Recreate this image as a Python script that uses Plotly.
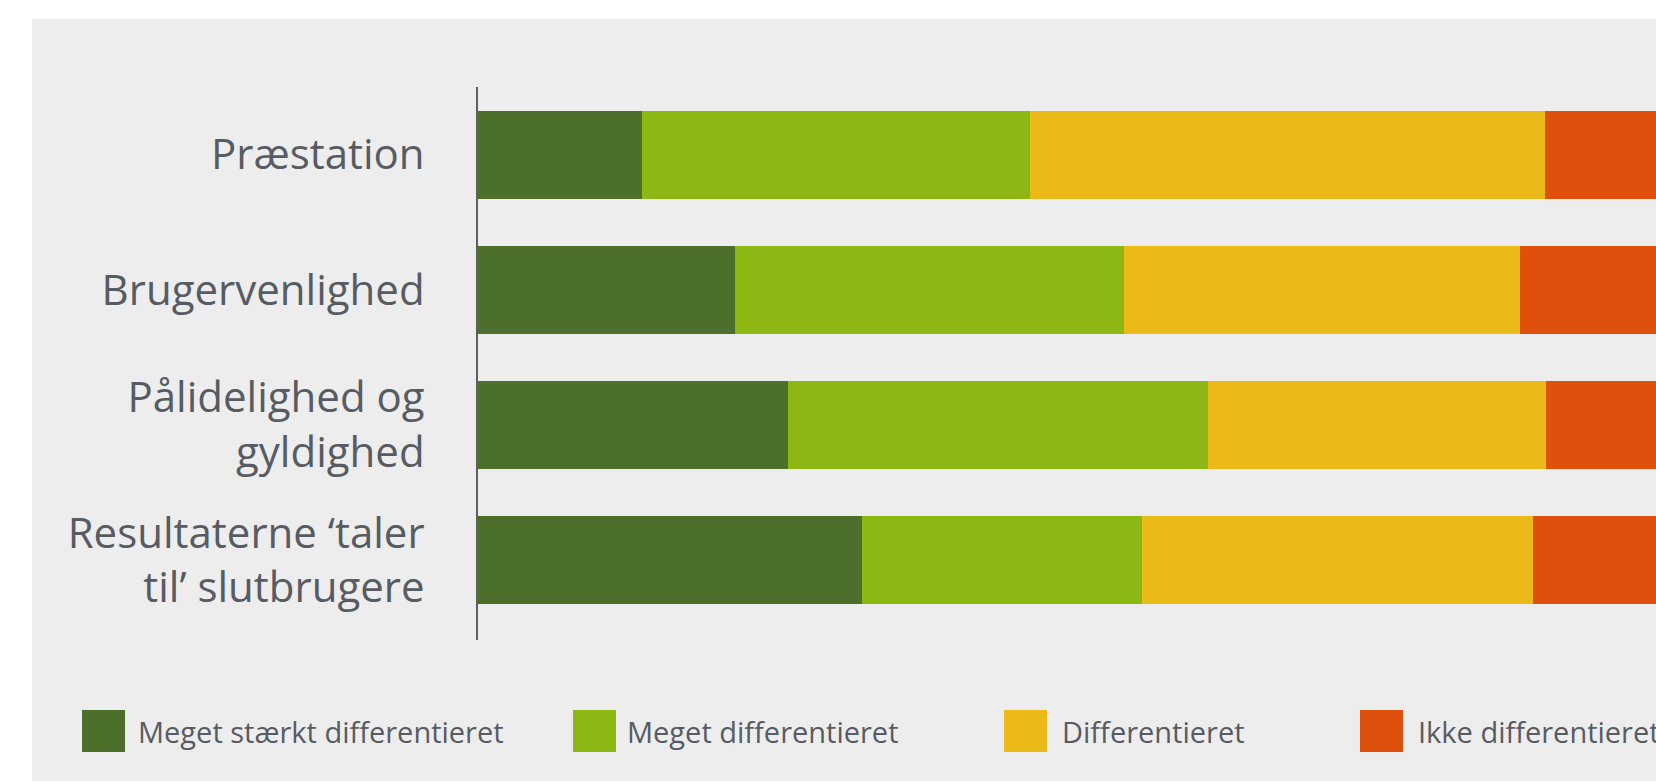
import plotly.graph_objects as go

# ---- data (percentages per row) ----
categories = [
    "Præstation",
    "Brugervenlighed",
    "Pålidelighed og<br>gyldighed",
    "Resultaterne ‘taler<br>til’ slutbrugere",
]
series_names = [
    "Meget stærkt differentieret",
    "Meget differentieret",
    "Differentieret",
    "Ikke differentieret",
]
meget_staerkt = [13.7, 21.4, 25.8, 32.0]
meget = [32.3, 32.4, 35.0, 23.3]
differentieret = [42.9, 33.0, 28.2, 32.6]
ikke = [11.1, 13.2, 11.0, 12.1]
series_values = [meget_staerkt, meget, differentieret, ikke]
colors = ["#4c6f2c", "#8db713", "#ebb918", "#de500c"]

# ---- layout geometry ----
FIG_W, FIG_H = 1720, 781
M_L, M_R, M_T, M_B = 478, 42, 87, 141
PW = FIG_W - M_L - M_R
PH = FIG_H - M_T - M_B
PANEL = "#ededed"
TEXT = "#575b62"
FONT = "Open Sans"


def px_x(px):
    return (px - M_L) / PW


def px_y(py):
    return (FIG_H - M_B - py) / PH


fig = go.Figure()
for name, vals, col in zip(series_names, series_values, colors):
    fig.add_trace(go.Bar(
        name=name, y=categories, x=vals, orientation="h",
        width=0.65, marker=dict(color=col, line=dict(width=0)),
        showlegend=False, hoverinfo="skip",
    ))

shapes = [dict(
    type="rect", xref="paper", yref="paper",
    x0=px_x(32), x1=px_x(FIG_W + 50), y0=px_y(FIG_H + 10), y1=px_y(19),
    fillcolor=PANEL, line=dict(width=0), layer="below",
)]
annotations = []
legend_swatch_left = [82, 573, 1004, 1360]
legend_text_left = [136, 625, 1060, 1416]
for name, col, sx, tx in zip(series_names, colors, legend_swatch_left, legend_text_left):
    shapes.append(dict(
        type="rect", xref="paper", yref="paper",
        x0=px_x(sx), x1=px_x(sx + 43), y0=px_y(752), y1=px_y(710),
        fillcolor=col, line=dict(width=0),
    ))
    annotations.append(dict(
        text=name, xref="paper", yref="paper", x=px_x(tx), y=px_y(731),
        xanchor="left", yanchor="middle", showarrow=False,
        font=dict(family=FONT, size=29, color=TEXT),
    ))

fig.update_layout(
    width=FIG_W, height=FIG_H,
    margin=dict(l=M_L, r=M_R, t=M_T, b=M_B, autoexpand=False),
    barmode="stack", bargap=0,
    paper_bgcolor="white", plot_bgcolor=PANEL,
    shapes=shapes, annotations=annotations,
    showlegend=False, hovermode=False,
    xaxis=dict(range=[0, 100], visible=False, fixedrange=True),
    yaxis=dict(
        type="category", categoryorder="array", categoryarray=categories,
        range=[3.59, -0.50], showline=True, linecolor="#5e5e5e", linewidth=2,
        ticks="", ticklen=0, ticklabelstandoff=43, showgrid=False, zeroline=False,
        tickfont=dict(family=FONT, size=42, color=TEXT), automargin=False,
        fixedrange=True,
    ),
)

fig.write_html(
    "out.html",
    config={"displayModeBar": False},
    post_script="document.body.style.margin='0';document.body.style.overflow='hidden';",
)
